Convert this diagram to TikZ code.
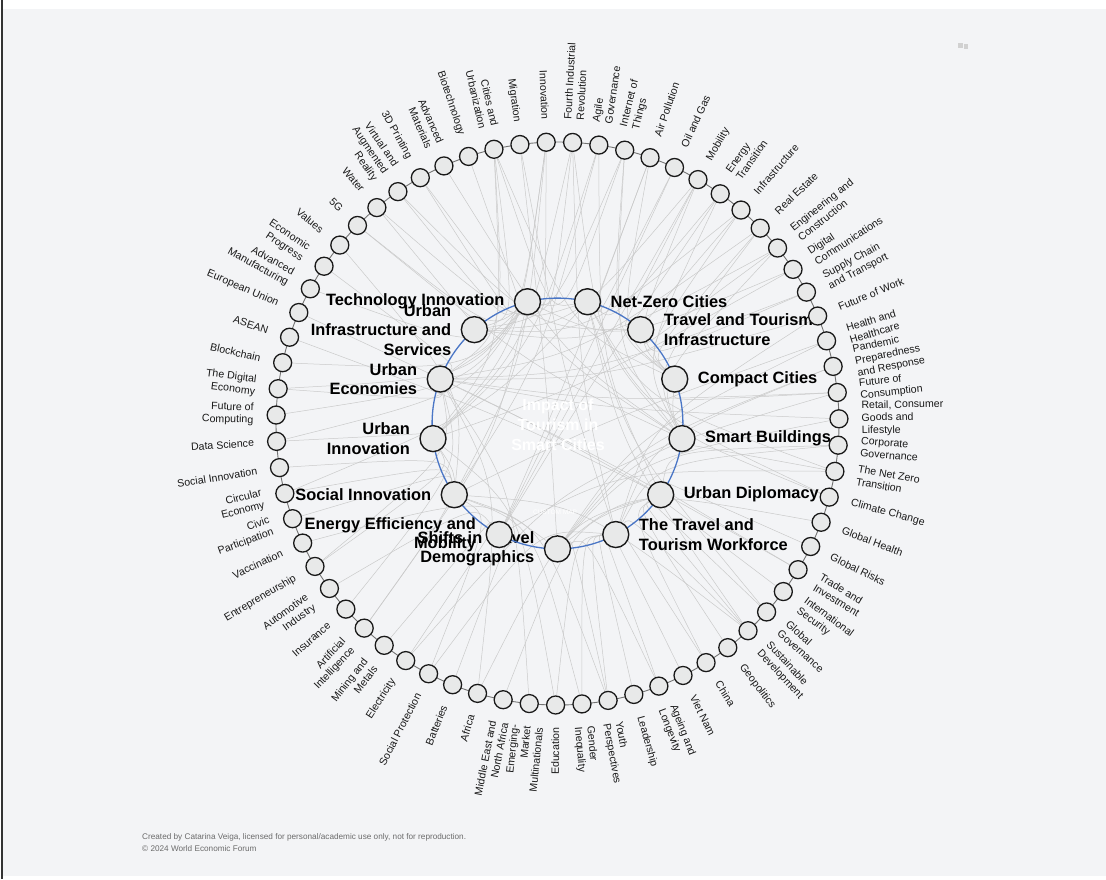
\documentclass[tikz,border=0pt]{standalone}
\usepackage{fontspec}
\setmainfont{Liberation Sans}
\usetikzlibrary{calc}
\pgfdeclarelayer{back}\pgfdeclarelayer{edges}\pgfdeclarelayer{labels}
\pgfsetlayers{back,edges,labels,main}
\definecolor{bgc}{HTML}{F3F4F6}
\definecolor{nodefill}{HTML}{E8E9E9}
\definecolor{ringblue}{HTML}{4A76C6}
\definecolor{linkc}{HTML}{CACACA}
\definecolor{footc}{HTML}{6B6B6B}
\tikzset{
 outer/.style={circle, draw=black!90, fill=nodefill, line width=1.3pt, minimum size=18pt, inner sep=0pt},
 innernode/.style={circle, draw=black!90, fill=nodefill, line width=1.4pt, minimum size=26pt, inner sep=0pt},
 olab/.style={font=\fontsize{10.6}{12.5}\selectfont, inner sep=0pt, text=black!90},
 ilab/.style={font=\fontsize{16.4}{19.5}\selectfont\bfseries, inner sep=0pt, text=black},
 link/.style={draw=linkc, line width=0.5pt},
}
\begin{document}
\begin{tikzpicture}[x=1pt,y=-1pt]
\begin{pgfonlayer}{back}
\fill[white] (0,0) rectangle (1106,879);
\fill[bgc] (3,9) rectangle (1106,876);
\fill[black!80] (1,0) rectangle (3,879);
\end{pgfonlayer}
\useasboundingbox (0,0) rectangle (1106,879);
\coordinate (C) at (557.5,423.5);
\draw[black!55, line width=0.9pt] (C) circle[radius=281.5];
\draw[ringblue, line width=1.3pt] (C) circle[radius=125.4];

% outer nodes
\foreach \lab [count=\i] in {Innovation, {Fourth Industrial\\Revolution}, {Agile\\Governance}, {Internet of\\Things}, Air Pollution, Oil and Gas, Mobility, {Energy\\Transition}, Infrastructure, Real Estate, {Engineering and\\Construction}, {Digital\\Communications}, {Supply Chain\\and Transport}, Future of Work, {Health and\\Healthcare}, {Pandemic\\Preparedness\\and Response}, {Future of\\Consumption}, {Retail, Consumer\\Goods and\\Lifestyle}, {Corporate\\Governance}, {The Net Zero\\Transition}, Climate Change, Global Health, Global Risks, {Trade and\\Investment}, {International\\Security}, {Global\\Governance}, {Sustainable\\Development}, Geopolitics, China, Viet Nam, {Ageing and\\Longevity}, Leadership, {Youth\\Perspectives}, {Gender\\Inequality}, Education, {Emerging-\\Market\\Multinationals}, {Middle East and\\North Africa}, Africa, Batteries, Social Protection, Electricity, {Mining and\\Metals}, {Artificial\\Intelligence}, Insurance, {Automotive\\Industry}, Entrepreneurship, Vaccination, {Civic\\Participation}, {Circular\\Economy}, Social Innovation, Data Science, {Future of\\Computing}, {The Digital\\Economy}, Blockchain, ASEAN, European Union, {Advanced\\Manufacturing}, {Economic\\Progress}, Values, 5G, Water, {Virtual and\\Augmented\\Reality}, 3D Printing, {Advanced\\Materials}, Biotechnology, {Cities and\\Urbanization}, Migration}{
 \pgfmathsetmacro\ang{92.3-(\i-1)*5.37313}
 \pgfmathsetmacro\px{557.5+281.5*cos(\ang)}
 \pgfmathsetmacro\py{423.5-281.5*sin(\ang)}
 \pgfmathsetmacro\lx{557.5+304*cos(\ang)}
 \pgfmathsetmacro\ly{423.5-304*sin(\ang)}
 \node[outer] (o\i) at (\px,\py) {};
 \pgfmathtruncatemacro\side{cos(\ang)>0.01 ? 1 : 0}
 \begin{pgfonlayer}{labels}
 \ifnum\side=1
   \node[olab, anchor=west, align=left, rotate=\ang] at (\lx,\ly) {\lab};
 \else
   \pgfmathsetmacro\rang{\ang+180}
   \node[olab, anchor=east, align=right, rotate=\rang] at (\lx,\ly) {\lab};
 \fi
 \end{pgfonlayer}
}

% inner nodes
\foreach \nm/\lab [count=\k from 0] in {NZ/{Net-Zero Cities}, TTI/{Travel and Tourism\\Infrastructure}, CC/{Compact Cities}, SB/{Smart Buildings}, UD/{Urban Diplomacy}, TTW/{The Travel and\\Tourism Workforce}, DEM/{Shifts in Travel\\Demographics}, EEM/{Energy Efficiency and\\Mobility}, SI/{Social Innovation}, UI/{Urban\\Innovation}, UE/{Urban\\Economies}, UIS/{Urban\\Infrastructure and\\Services}, TI/{Technology Innovation}}{
 \pgfmathsetmacro\ang{76.154-\k*27.6923}
 \pgfmathsetmacro\px{557.5+125.4*cos(\ang)}
 \pgfmathsetmacro\py{423.5-125.4*sin(\ang)}
 \pgfmathtruncatemacro\side{cos(\ang)>0.01 ? 1 : 0}
 \node[innernode] (n\nm) at (\px,\py) {};
 \begin{pgfonlayer}{labels}
 \ifnum\side=1
   \pgfmathsetmacro\lx{\px+23}
   \node[ilab, anchor=west, align=left] at (\lx,\py) {\lab};
 \else
   \pgfmathsetmacro\lx{\px-23}
   \node[ilab, anchor=east, align=right] at (\lx,\py) {\lab};
 \fi
 \end{pgfonlayer}
}

% links
\begin{pgfonlayer}{edges}
\foreach \i/\j in {1/TI,1/UI,1/SI,1/UE, 2/TI,2/UI,2/SB,2/TTW, 3/UD,3/UI,3/SI, 4/TI,4/SB,4/CC,4/UIS, 5/NZ,5/EEM,5/CC, 6/NZ,6/EEM, 7/EEM,7/TTI,7/CC,7/UIS, 8/NZ,8/SB,8/EEM, 9/UIS,9/TTI,9/CC, 10/SB,10/CC,10/UE, 11/SB,11/UIS,11/TTI, 12/TI,12/UI, 13/TTI,13/UE, 14/TTW,14/UE, 15/DEM,15/SI, 16/TTW,16/DEM, 17/DEM,17/UE,17/CC, 18/UE,18/DEM, 19/UD,19/TTW, 20/NZ,20/SB,20/EEM, 21/NZ,21/CC, 22/DEM, 23/UD, 24/UD,24/UE, 25/UD, 26/UD,26/NZ, 27/UD,27/SI,27/NZ,27/TTW, 28/UD, 29/UD,29/TTW, 30/TTW, 31/DEM,31/TTW, 32/TTW, 33/DEM,33/TTW,33/SI, 34/TTW,34/SI, 35/TTW,35/UI, 36/UE, 37/UD, 38/UD,38/UE, 39/EEM, 40/SI,40/TTW, 41/EEM,41/SB, 42/EEM, 43/TI,43/UI, 44/UE, 45/EEM, 46/UI,46/UE, 47/DEM, 48/SI, 49/NZ,49/SI, 50/SI, 51/TI,51/UI, 52/TI, 53/TI,53/UE, 54/TI, 55/UD, 56/UD, 57/TI, 58/UE, 59/SI, 60/TI,60/SB, 61/UIS,61/NZ, 62/TI,62/TTI, 63/TI,63/SB, 64/SB, 65/TI, 66/UIS,66/CC,66/UE,66/UI,66/NZ, 67/DEM,67/TTW}{
 \draw[link] (o\i) .. controls ($(o\i)!0.5!(n\j)!0.42!(C)$) .. (n\j);
}
\end{pgfonlayer}

% centre title
\node[font=\fontsize{16}{20}\selectfont\bfseries, text=white, align=center, inner sep=0pt] (title) at (558,425) {Impact of\\Tourism in\\Smart Cities};
\node[font=\fontsize{6.5}{7}\selectfont, text=white, inner sep=0pt] (custom) at (555,512) {CUSTOM MAP};

% footer
\node[anchor=base west, font=\fontsize{8.2}{10}\selectfont, text=footc, inner sep=0pt] (credit) at (142,839) {Created by Catarina Veiga, licensed for personal/academic use only, not for reproduction.};
\node[anchor=base west, font=\fontsize{8.2}{10}\selectfont, text=footc, inner sep=0pt] (copy) at (142,851) {© 2024 World Economic Forum};

% small corner icon
\fill[black!18] (958,43) rectangle (963,48);
\fill[black!18] (964,44) rectangle (968,49);
\end{tikzpicture}
\end{document}
